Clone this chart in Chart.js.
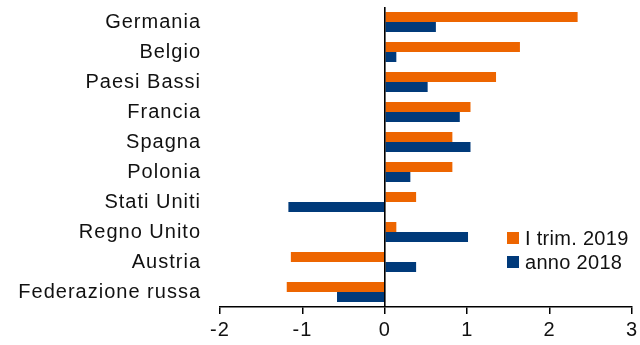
<!DOCTYPE html>
<html>
<head>
<meta charset="utf-8">
<script src="https://cdn.jsdelivr.net/npm/chart.js@4/dist/chart.umd.min.js"></script>
<style>
  html, body { margin: 0; padding: 0; background: #fff; }
  #wrap { width: 640px; height: 345px; position: relative; }
</style>
</head>
<body>
<div id="wrap"><canvas id="c"></canvas></div>
<script>
// Countries (top to bottom)
const countries = ['Germania', 'Belgio', 'Paesi Bassi', 'Francia', 'Spagna', 'Polonia',
                   'Stati Uniti', 'Regno Unito', 'Austria', 'Federazione russa'];
// First quarter 2019
const q1_2019 = [2.34, 1.64, 1.35, 1.04, 0.82, 0.82, 0.38, 0.14, -1.14, -1.19];
// Full year 2018
const year2018 = [0.62, 0.14, 0.52, 0.91, 1.04, 0.31, -1.17, 1.01, 0.38, -0.58];
const seriesNames = ['I trim. 2019', 'anno 2018'];
const xTicks = [-2, -1, 0, 1, 2, 3];

const ORANGE = '#ED6500';
const BLUE = '#003A7A';
const FONT = 'Arial, "Liberation Sans", sans-serif';

// Slightly widened lettering on all canvas text
const spacingPlugin = {
  id: 'spacing',
  beforeLayout(chart) { chart.ctx.letterSpacing = '1px'; },
  beforeDraw(chart) { chart.ctx.letterSpacing = '1px'; }
};

// Vertical zero line and the series key inside the plot
const extrasPlugin = {
  id: 'extras',
  afterDatasetsDraw(chart) {
    const { ctx, chartArea, scales } = chart;
    const x0 = scales.x.getPixelForValue(0);
    ctx.save();
    ctx.strokeStyle = '#000';
    ctx.lineWidth = 1.6;
    ctx.beginPath();
    ctx.moveTo(x0, chartArea.top);
    ctx.lineTo(x0, chartArea.bottom);
    ctx.stroke();

    ctx.font = '20px ' + FONT;
    ctx.letterSpacing = '0.3px';
    ctx.textBaseline = 'middle';
    ctx.textAlign = 'left';
    chart.data.datasets.forEach((ds, i) => {
      const y = 238 + i * 24;
      ctx.fillStyle = ds.backgroundColor;
      ctx.fillRect(507, y - 6, 12, 12);
      ctx.fillStyle = '#111';
      ctx.fillText(ds.label, 525, y + 1);
    });
    ctx.restore();
  }
};

new Chart(document.getElementById('c'), {
  type: 'bar',
  data: {
    labels: countries,
    datasets: [
      { label: seriesNames[0], data: q1_2019, backgroundColor: ORANGE },
      { label: seriesNames[1], data: year2018, backgroundColor: BLUE }
    ]
  },
  plugins: [spacingPlugin, extrasPlugin],
  options: {
    indexAxis: 'y',
    responsive: true,
    maintainAspectRatio: false,
    animation: false,
    layout: { padding: { top: 7, right: 8, left: 0, bottom: 0 } },
    datasets: { bar: { barPercentage: 1, categoryPercentage: 0.667 } },
    plugins: { legend: { display: false }, tooltip: { enabled: false } },
    scales: {
      x: {
        min: -2, max: 3,
        afterBuildTicks(scale) { scale.ticks = xTicks.map(v => ({ value: v })); },
        afterFit(scale) {
          scale.height = 38;
          scale.paddingLeft = 0;
          scale.paddingRight = 0;
        },
        grid: { display: true, drawOnChartArea: false, drawTicks: true, tickLength: 7, color: '#000', lineWidth: 1.5 },
        border: { display: true, color: '#000', width: 1.5 },
        ticks: { color: '#111', font: { size: 20, family: FONT }, padding: 4, maxRotation: 0 }
      },
      y: {
        afterFit(scale) {
          scale.width = 220;
          scale.paddingTop = 0;
          scale.paddingBottom = 0;
        },
        grid: { display: false, drawTicks: false },
        border: { display: false },
        ticks: { color: '#111', font: { size: 20, family: FONT }, padding: 19, autoSkip: false }
      }
    }
  }
});
</script>
</body>
</html>
